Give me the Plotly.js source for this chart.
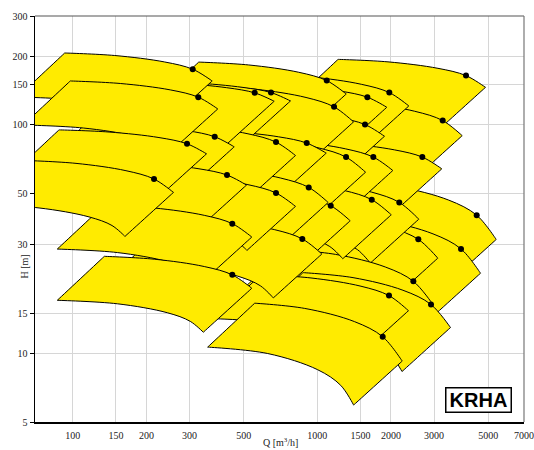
<!DOCTYPE html>
<html>
<head>
<meta charset="utf-8">
<script src="https://cdn.plot.ly/plotly-3.0.1.min.js"></script>
<style>html,body{margin:0;padding:0;background:#fff}</style>
</head>
<body>
<div id="chart" style="width:534px;height:450px"></div>
<script>
// KRHA selection chart: one operating field per pump size, listed back to front.
// Best efficiency point of each size (Q in m3/h, H in m).
const bepQ = [4054, 4484, 3255, 3868, 2687, 1969, 2587, 1601, 2163, 2469, 2916, 1566, 1694, 1669, 1092, 1170, 1310, 1963, 1850, 1134, 904.5, 921.7, 646.2, 677.3, 867.8, 554.2, 677.3, 309.1, 380.3, 426.9, 325.8, 448.8, 448.8, 293.0, 214.7];
const bepH = [164.5, 40.25, 104.5, 28.64, 72.3, 138.6, 31.55, 132.3, 45.79, 20.67, 16.35, 100.4, 72.3, 47.05, 156.4, 120.0, 72.3, 17.89, 11.81, 44.30, 83.3, 53.27, 138.6, 84.1, 31.68, 138.2, 50.35, 175.4, 88.75, 60.35, 132.3, 36.96, 22.05, 82.7, 57.97];

// Largest impeller curve: left end, two points before the BEP, right end.
const maxCurveQ = [
  [1215, 1945, 3113, 4871], [1343, 2151, 3444, 5387], [975.2, 1562, 2500, 3911], [1159, 1856, 2971, 4647],
  [805.0, 1289, 2064, 3228], [589.9, 944.7, 1512, 2366], [775.1, 1241, 1987, 3108], [479.7, 768.2, 1230, 1923],
  [648.0, 1038, 1661, 2599], [739.7, 1185, 1896, 2966], [873.6, 1399, 2239, 3503], [469.2, 751.4, 1203, 1881],
  [507.5, 812.8, 1301, 2035], [500.0, 800.8, 1282, 2005], [327.2, 523.9, 838.7, 1312], [350.5, 561.4, 898.6, 1406],
  [392.5, 628.5, 1006, 1574], [588.1, 941.8, 1508, 2358], [554.3, 887.6, 1421, 2223], [339.7, 544.1, 870.9, 1362],
  [271.0, 434.0, 694.7, 1087], [276.1, 442.2, 707.9, 1107], [193.6, 310.0, 496.3, 776.3], [202.9, 325.0, 520.2, 813.7],
  [260.0, 416.4, 666.5, 1043], [166.0, 265.9, 425.6, 665.8], [202.9, 325.0, 520.2, 813.7], [92.6, 148.3, 237.4, 371.3],
  [113.9, 182.5, 292.1, 456.9], [127.9, 204.8, 327.9, 512.9], [97.6, 156.3, 250.2, 391.4], [134.5, 215.3, 344.7, 539.2],
  [134.5, 215.3, 344.7, 539.2], [87.78, 140.6, 225.0, 352.0], [64.32, 103.0, 164.9, 257.9]
];
const maxCurveH = [
  [193.7, 188.9, 177.0, 146.1], [56.48, 53.58, 46.86, 31.50], [129.0, 124.8, 114.8, 89.74], [40.19, 38.13, 33.34, 22.41],
  [85.14, 83.01, 77.80, 64.23], [167.1, 162.3, 150.7, 121.1], [41.03, 39.39, 35.49, 26.09], [152.2, 148.9, 140.9, 119.5],
  [57.85, 55.78, 50.84, 38.66], [28.50, 27.11, 23.87, 16.38], [22.55, 21.44, 18.88, 12.96], [118.2, 115.3, 108.0, 89.20],
  [87.15, 84.66, 78.62, 63.15], [58.06, 56.20, 51.70, 40.41], [188.5, 183.1, 170.1, 136.6], [148.1, 143.3, 131.9, 103.1],
  [89.22, 86.36, 79.44, 62.09], [22.08, 21.37, 19.66, 15.36], [16.57, 15.72, 13.75, 9.241], [54.67, 52.92, 48.68, 38.04],
  [95.83, 93.77, 88.70, 75.27], [65.73, 63.63, 58.53, 45.75], [155.7, 153.0, 146.0, 127.4], [101.4, 98.48, 91.45, 73.46],
  [39.09, 37.84, 34.81, 27.21], [155.3, 152.5, 145.6, 127.0], [60.69, 58.96, 54.75, 43.98], [206.6, 201.4, 188.7, 155.8],
  [102.1, 99.91, 94.50, 80.19], [69.43, 67.94, 64.26, 54.53], [155.8, 151.9, 142.4, 117.5], [44.55, 43.28, 40.19, 32.28],
  [26.58, 25.82, 23.98, 19.26], [95.14, 93.10, 88.06, 74.73], [69.88, 67.88, 63.04, 50.64]
];

// Smallest impeller curve, from its left end to its right end.
const minCurveQ = [
  [780.0, 1373, 2198, 2730, 3084], [862.7, 1518, 2431, 3020, 3411], [626.3, 1102, 1765, 2192, 2476], [744.2, 1310, 2097, 2605, 2943],
  [517.0, 909.8, 1457, 1809, 2044], [378.8, 666.7, 1068, 1326, 1498], [497.7, 876.0, 1403, 1742, 1968], [308.0, 542.1, 868.1, 1078, 1218],
  [416.2, 732.4, 1173, 1457, 1646], [475.0, 836.0, 1339, 1663, 1878], [561.0, 987.4, 1581, 1964, 2219], [301.3, 530.2, 849.1, 1055, 1191],
  [325.9, 573.6, 918.5, 1141, 1289], [321.1, 565.1, 904.9, 1124, 1270], [210.1, 369.8, 592.1, 735.4, 830.8], [225.1, 396.2, 634.4, 787.9, 890.1],
  [252.0, 443.6, 710.3, 882.2, 996.6], [377.7, 664.7, 1064, 1322, 1493], [355.9, 626.4, 1003, 1246, 1407], [218.2, 384.0, 614.9, 763.6, 862.7],
  [174.0, 306.3, 490.4, 609.1, 688.1], [177.3, 312.1, 499.7, 620.7, 701.2], [124.3, 218.8, 350.4, 435.2, 491.6], [130.3, 229.3, 367.2, 456.1, 515.3],
  [167.0, 293.8, 470.5, 584.4, 660.2], [106.6, 187.7, 300.5, 373.2, 421.6], [130.3, 229.3, 367.2, 456.1, 515.3], [59.5, 104.7, 167.6, 208.1, 235.2],
  [73.17, 128.8, 206.2, 256.1, 289.3], [82.13, 144.5, 231.5, 287.5, 324.8], [62.7, 110.3, 176.6, 219.4, 247.9], [86.35, 152.0, 243.3, 302.2, 341.5],
  [86.35, 152.0, 243.3, 302.2, 341.5], [56.37, 99.21, 158.9, 197.3, 222.9], [41.31, 72.70, 116.4, 144.6, 163.3]
];
const minCurveH = [
  [124.3, 120.6, 111.4, 103.2, 93.81], [36.25, 33.99, 28.87, 24.66, 20.22], [82.77, 79.53, 71.86, 65.16, 57.61], [25.80, 24.19, 20.54, 17.54, 14.39],
  [54.65, 52.99, 48.96, 45.38, 41.23], [107.2, 103.5, 94.58, 86.69, 77.71], [26.34, 25.06, 22.07, 19.53, 16.74], [97.70, 95.14, 88.92, 83.30, 76.73],
  [37.13, 35.52, 31.73, 28.46, 24.82], [18.30, 17.21, 14.74, 12.69, 10.51], [14.47, 13.61, 11.66, 10.04, 8.317], [75.89, 73.58, 67.99, 63.01, 57.26],
  [55.94, 54.01, 49.34, 45.22, 40.54], [37.27, 35.81, 32.36, 29.34, 25.94], [121.0, 116.8, 106.7, 97.83, 87.69], [95.05, 91.33, 82.52, 74.82, 66.16],
  [57.27, 55.03, 49.72, 45.08, 39.86], [14.17, 13.62, 12.30, 11.15, 9.863], [10.64, 9.973, 8.470, 7.235, 5.932], [35.09, 33.72, 30.46, 27.62, 24.42],
  [61.52, 59.90, 55.99, 52.45, 48.31], [42.20, 40.54, 36.63, 33.21, 29.37], [99.97, 97.78, 92.43, 87.54, 81.75], [65.07, 62.82, 57.39, 52.60, 47.15],
  [25.09, 24.11, 21.79, 19.75, 17.47], [99.68, 97.50, 92.17, 87.29, 81.51], [38.96, 37.61, 34.36, 31.49, 28.23], [132.6, 128.6, 118.8, 110.1, 100.0],
  [65.54, 63.82, 59.65, 55.88, 51.48], [44.57, 43.40, 40.56, 38.00, 35.00], [100.0, 96.96, 89.59, 83.03, 75.45], [28.60, 27.61, 25.22, 23.12, 20.72],
  [17.06, 16.47, 15.05, 13.79, 12.36], [61.07, 59.47, 55.58, 52.07, 47.97], [44.85, 43.30, 39.56, 36.26, 32.50]
];

const tickQ = [100, 150, 200, 300, 500, 1000, 1500, 2000, 3000, 5000, 7000];
const tickH = [5, 10, 15, 30, 50, 100, 150, 200, 300];
const seriesName = 'KRHA';

// Closed outline of one field: max curve, right edge, min curve back, left edge.
// Corner points are repeated so the spline keeps them sharp.
function fieldOutline(i) {
  const tq = maxCurveQ[i], th = maxCurveH[i];
  const lq = minCurveQ[i], lh = minCurveH[i];
  const x = [tq[0], tq[0], tq[1], tq[2], bepQ[i], tq[3], tq[3],
             lq[4], lq[4], lq[3], lq[2], lq[1], lq[0], lq[0], tq[0]];
  const y = [th[0], th[0], th[1], th[2], bepH[i], th[3], th[3],
             lh[4], lh[4], lh[3], lh[2], lh[1], lh[0], lh[0], th[0]];
  return {x, y};
}

const traces = [];
for (let i = 0; i < bepQ.length; i++) {
  const o = fieldOutline(i);
  traces.push({
    type: 'scatter', mode: 'lines', x: o.x, y: o.y,
    fill: 'toself', fillcolor: '#FFEB00',
    line: {color: '#000', width: 1, shape: 'spline', smoothing: 1, simplify: false},
    hoverinfo: 'skip', showlegend: false
  });
}
traces.push({
  type: 'scatter', mode: 'markers', x: bepQ, y: bepH,
  marker: {color: '#000', size: 6},
  hoverinfo: 'skip', showlegend: false
});

const tickFont = {family: 'Liberation Serif, DejaVu Serif, serif', size: 10, color: '#222'};

const layout = {
  width: 534, height: 450,
  margin: {l: 35, r: 10, t: 16, b: 28},
  paper_bgcolor: '#fff', plot_bgcolor: '#fff',
  hovermode: false,
  xaxis: {
    type: 'log', range: [Math.log10(70), Math.log10(7000)],
    tickvals: tickQ, ticktext: tickQ.map(String),
    showgrid: true, gridcolor: '#d6d6d6', gridwidth: 1,
    showline: true, linecolor: '#000', linewidth: 1.5,
    ticks: 'outside', ticklen: 3, tickcolor: 'rgba(0,0,0,0)',
    tickfont: tickFont, zeroline: false
  },
  yaxis: {
    type: 'log', range: [Math.log10(5), Math.log10(300)],
    tickvals: tickH, ticktext: tickH.map(String),
    showgrid: true, gridcolor: '#d6d6d6', gridwidth: 1,
    showline: true, linecolor: '#000', linewidth: 1.5,
    ticks: 'outside', ticklen: 4, tickcolor: '#000', tickwidth: 1,
    tickfont: tickFont, zeroline: false
  },
  shapes: [
    {type: 'line', xref: 'paper', yref: 'paper', x0: 0, x1: 1, y0: 1, y1: 1, line: {color: '#555', width: 1.2}},
    {type: 'line', xref: 'paper', yref: 'paper', x0: 1, x1: 1, y0: 0, y1: 1, line: {color: '#777', width: 1.2}}
  ],
  annotations: [
    {text: 'Q [m<sup>3</sup>/h]', xref: 'paper', yref: 'paper', x: 0.503, y: -0.049,
     xanchor: 'center', yanchor: 'middle', showarrow: false, font: tickFont},
    {text: 'H [m]', xref: 'paper', yref: 'paper', x: -0.0215, y: 0.384, textangle: -90,
     xanchor: 'center', yanchor: 'middle', showarrow: false, font: tickFont},
    {text: '<b>' + seriesName + '</b>', xref: 'paper', yref: 'paper', x: 0.9074, y: 0.053,
     xanchor: 'center', yanchor: 'middle', showarrow: false,
     font: {family: 'Liberation Sans, Arial, sans-serif', size: 20, color: '#000'},
     bgcolor: '#fff', bordercolor: '#000', borderwidth: 1.5, borderpad: 1, width: 62, height: 21}
  ]
};

Plotly.newPlot('chart', traces, layout, {staticPlot: true, displayModeBar: false});
</script>
</body>
</html>
